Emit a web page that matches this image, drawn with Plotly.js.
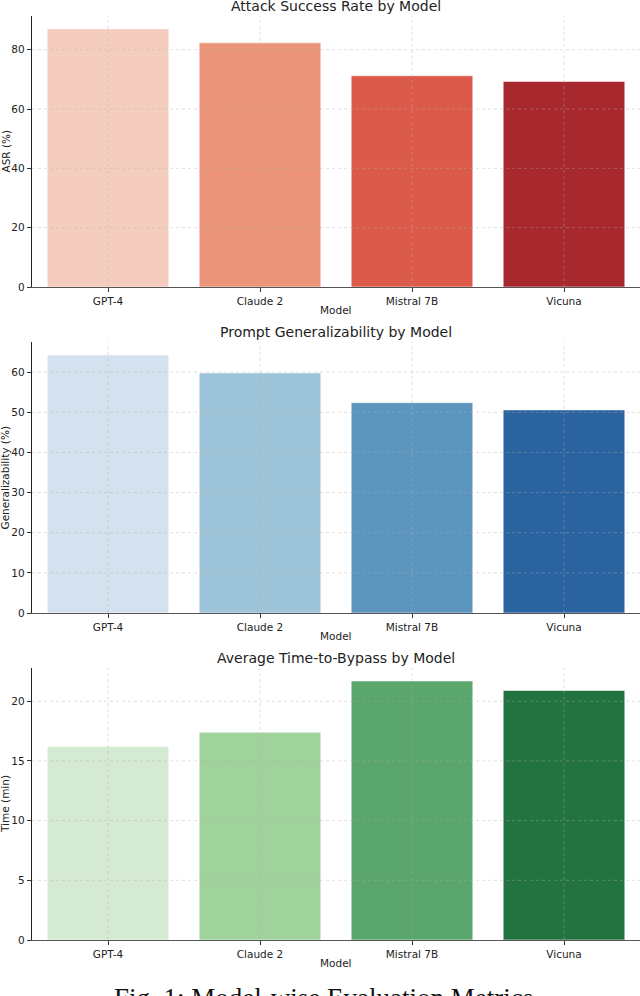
<!DOCTYPE html>
<html>
<head>
<meta charset="utf-8">
<script src="https://cdn.plot.ly/plotly-3.0.1.min.js"></script>
<style>html,body{margin:0;padding:0;background:#fff;}#chart{width:640px;height:996px;}</style>
</head>
<body>
<div id="chart"></div>
<script>
// ---- data ----
const models = ["GPT-4", "Claude 2", "Mistral 7B", "Vicuna"];
const asr = [87.0, 82.3, 71.2, 69.3];
const generalizability = [64.3, 59.8, 52.4, 50.6];
const timeToBypass = [16.2, 17.4, 21.7, 20.9];

const redColors = ["#f4cdbf", "#eb9479", "#dc5a4a", "#a7282d"];
const blueColors = ["#d4e2ef", "#9ec4da", "#5c96bf", "#2b63a0"];
const greenColors = ["#d5ead2", "#a0d29b", "#5aa66c", "#22733f"];

const asrTicks = [0, 20, 40, 60, 80];
const genTicks = [0, 10, 20, 30, 40, 50, 60];
const timeTicks = [0, 5, 10, 15, 20];

const titles = ["Attack Success Rate by Model", "Prompt Generalizability by Model", "Average Time-to-Bypass by Model"];
const yTitles = ["ASR (%)", "Generalizability (%)", "Time (min)"];
const caption = "Fig. 1: Model-wise Evaluation Metrics";

// ---- layout helpers ----
const H = 996;
const P = px => 1 - px / H;
const panels = [
  {top: 16, bottom: 287, vals: asr, colors: redColors, ticks: asrTicks},
  {top: 342, bottom: 613, vals: generalizability, colors: blueColors, ticks: genTicks},
  {top: 668, bottom: 940, vals: timeToBypass, colors: greenColors, ticks: timeTicks}
];
const font = "DejaVu Sans, Verdana, sans-serif";
const gridLine = {color: "rgba(175,175,175,0.5)", width: 0.8, dash: "dot"};
const traces = [];
const layout = {
  width: 640, height: 996,
  margin: {l: 32, r: 0, t: 0, b: 0},
  paper_bgcolor: "#fff", plot_bgcolor: "#fff",
  showlegend: false,
  bargap: 0.2,
  font: {family: font, size: 10.5, color: "#222"},
  annotations: [], shapes: []
};

panels.forEach((p, i) => {
  const n = i === 0 ? "" : String(i + 1);
  const xa = "x" + n, ya = "y" + n;
  traces.push({
    type: "bar", x: models, y: p.vals, xaxis: xa, yaxis: ya,
    marker: {color: p.colors, line: {color: "rgba(255,255,255,0.55)", width: 1}},
    hoverinfo: "x+y"
  });
  const ymax = Math.max(...p.vals) * 1.05;
  layout["xaxis" + n] = {
    domain: [0, 1], anchor: ya, type: "category",
    range: [-0.5, 3.5], showgrid: false, zeroline: false,
    showline: true, linecolor: "#555", linewidth: 1.3,
    ticks: "outside", ticklen: 4, tickcolor: "#333", tickwidth: 1,
    tickfont: {family: font, size: 10.5, color: "#222"}, fixedrange: true
  };
  layout["yaxis" + n] = {
    domain: [P(p.bottom), P(p.top)], anchor: xa,
    range: [0, ymax], tickvals: p.ticks, showgrid: false, zeroline: false,
    showline: true, linecolor: "#222", linewidth: 1.3,
    ticks: "outside", ticklen: 4, tickcolor: "#333", tickwidth: 1,
    tickfont: {family: font, size: 10.5, color: "#222"}, fixedrange: true
  };
  // dotted grid above bars
  p.ticks.forEach(t => {
    if (t === 0) return;
    layout.shapes.push({type: "line", layer: "above", xref: xa + " domain", yref: ya,
      x0: 0, x1: 1, y0: t, y1: t, line: gridLine});
  });
  models.forEach(m => {
    layout.shapes.push({type: "line", layer: "above", xref: xa, yref: ya + " domain",
      x0: m, x1: m, y0: 0, y1: 1, line: gridLine});
  });
  // titles
  layout.annotations.push({text: titles[i], xref: "paper", yref: "paper", x: 0.5, y: P(p.top - 10),
    xanchor: "center", yanchor: "middle", showarrow: false, font: {family: font, size: 14, color: "#222"}});
  layout.annotations.push({text: "Model", xref: "paper", yref: "paper", x: 0.5, y: P(p.bottom + 23),
    xanchor: "center", yanchor: "middle", showarrow: false, font: {family: font, size: 10.5, color: "#222"}});
  layout.annotations.push({text: yTitles[i], xref: "paper", yref: "paper", x: -27 / 608, y: P((p.top + p.bottom) / 2),
    xanchor: "center", yanchor: "middle", textangle: -90, showarrow: false, font: {family: font, size: 10.5, color: "#222"}});
});

layout.annotations.push({text: caption, xref: "paper", yref: "paper", x: (323 - 32) / 608, y: P(981),
  xanchor: "center", yanchor: "top", showarrow: false, font: {family: "Liberation Serif, Times New Roman, serif", size: 27, color: "#111"}});

Plotly.newPlot("chart", traces, layout, {displayModeBar: false, staticPlot: true});
</script>
</body>
</html>
